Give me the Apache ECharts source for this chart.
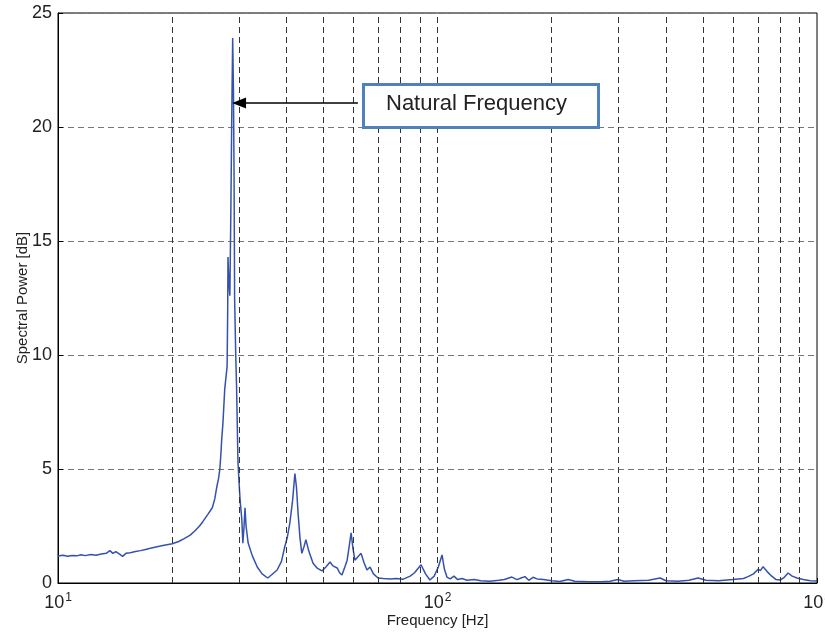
<!DOCTYPE html>
<html>
<head>
<meta charset="utf-8">
<script src="https://cdn.jsdelivr.net/npm/echarts@6/dist/echarts.min.js"></script>
<style>
html,body{margin:0;padding:0;background:#fff;}
#c{width:825px;height:632px;}
</style>
</head>
<body>
<div id="c"></div>
<script>
// Frequency [Hz]
const freqs = [10,10.3,10.6,10.9,11.2,11.5,11.8,12.2,12.6,13.0,13.4,13.7,13.95,14.2,14.5,14.8,15.1,15.5,16.0,16.5,17.0,17.5,18.0,18.6,19.2,20.0,20.8,21.5,22.3,23.0,23.6,24.1,24.8,25.5,25.9,26.2,26.5,26.7,26.9,27.0,27.2,27.4,27.5,27.7,27.9,28.0,28.05,28.2,28.37,28.55,28.7,28.86,29.0,29.1,29.2,29.4,29.55,29.8,30.0,30.2,30.5,30.7,30.9,31.1,31.3,31.7,32.5,33.5,34.5,35.7,36.5,37.8,38.8,39.6,40.2,40.8,41.5,42.1,42.5,42.9,43.4,43.9,44.5,45.0,45.8,47.0,48.2,49.6,50.8,52.1,53.0,54.4,55.2,56.0,57.0,57.8,58.5,59.2,59.9,60.6,61.7,62.9,64.0,65.2,66.4,67.8,69.7,72,75,78,81,84.7,87,90.5,93,95.5,98,100.5,102.8,104.3,105.9,108,110.5,113,116,119.6,125,130,137.5,145,150,157,162,166,170,174,178.5,183,190,200,210,221,230,250,270,285,299,310,330,360,386,400,430,460,486,510,550,600,640,658,680,700,710,721,730,739,760,780,800,820,839,860,886,920,960,1000];
// Spectral Power [dB]
const power = [1.18,1.22,1.17,1.21,1.19,1.24,1.2,1.25,1.22,1.27,1.3,1.42,1.3,1.38,1.28,1.17,1.3,1.33,1.38,1.42,1.47,1.52,1.57,1.62,1.67,1.72,1.82,1.95,2.1,2.3,2.5,2.7,3.0,3.3,3.7,4.2,4.6,5.0,5.8,6.3,7.0,8.0,8.5,9.0,9.5,12.0,14.3,13.2,12.6,16.5,20.5,23.9,21.5,18.0,12.5,10.0,8.6,5.3,4.4,3.6,2.8,1.75,2.4,3.3,2.5,1.75,1.2,0.7,0.4,0.22,0.35,0.57,0.95,1.6,2.0,2.6,3.6,4.8,4.2,3.1,2.0,1.3,1.6,1.9,1.4,0.87,0.65,0.53,0.7,0.92,0.75,0.66,0.45,0.35,0.7,1.0,1.6,2.2,1.5,1.0,1.15,1.3,0.9,0.57,0.7,0.4,0.22,0.2,0.18,0.2,0.16,0.3,0.45,0.8,0.4,0.13,0.3,0.7,1.23,0.6,0.26,0.18,0.3,0.15,0.2,0.12,0.15,0.1,0.08,0.12,0.15,0.26,0.15,0.22,0.28,0.12,0.25,0.18,0.15,0.1,0.07,0.15,0.08,0.05,0.06,0.08,0.15,0.08,0.1,0.12,0.22,0.1,0.08,0.12,0.22,0.12,0.1,0.15,0.2,0.28,0.4,0.6,0.55,0.72,0.6,0.5,0.3,0.15,0.13,0.25,0.44,0.3,0.22,0.15,0.1,0.09];
// Minor grid positions
const gridFreqs = [20,30,40,50,60,70,80,90,100,200,300,400,500,600,700,800,900];
const yTicks = [0,5,10,15,20,25];
const annotationText = 'Natural Frequency';
const arrowFrom = [61.7, 21.05];
const arrowTo = [30.0, 21.05];

const chart = echarts.init(document.getElementById('c'), null, {renderer:'canvas'});
const font = 'Helvetica, Arial, "Liberation Sans", sans-serif';

const option = {
  animation: false,
  backgroundColor: '#fff',
  grid: {left:58, right:8, top:13, bottom:49, show:true, borderColor:'#000', borderWidth:1,
         containLabel:false, outerBoundsMode:'none'},
  xAxis: {
    type:'log', logBase:10, min:10, max:1000,
    name:'Frequency [Hz]', nameLocation:'middle', nameGap:30, nameMoveOverlap:false,
    nameTextStyle:{fontFamily:font, fontSize:15, color:'#222'},
    axisLine:{show:true, lineStyle:{color:'#000', width:1}},
    axisTick:{show:true, inside:true, length:5, lineStyle:{color:'#000'}},
    splitLine:{show:false},
    axisLabel:{
      margin:9, color:'#222', fontFamily:font, hideOverlap:false, showMaxLabel:true, showMinLabel:true,
      formatter: v => '{b|10}{s|' + Math.round(Math.log10(v)) + '}',
      rich:{ b:{fontSize:18, fontFamily:font, color:'#222'},
             s:{fontSize:12, fontFamily:font, color:'#222', verticalAlign:'top', padding:[0,0,10,1]} }
    }
  },
  yAxis: {
    type:'value', min:yTicks[0], max:yTicks[yTicks.length-1], interval:5,
    name:'Spectral Power [dB]', nameLocation:'middle', nameGap:28, nameRotate:90, nameMoveOverlap:false,
    nameTextStyle:{fontFamily:font, fontSize:15, color:'#222'},
    axisLine:{show:true, lineStyle:{color:'#000', width:1}},
    axisTick:{show:true, inside:true, length:5, lineStyle:{color:'#000'}},
    axisLabel:{fontFamily:font, fontSize:18, color:'#222', margin:6},
    splitLine:{show:true, lineStyle:{color:'#777', type:[6,4], width:1}}
  },
  series: [
    {
      type:'line', data: [], silent:true, z:1,
      markLine:{
        silent:true, symbol:['none','none'], animation:false,
        label:{show:false},
        lineStyle:{color:'#333', type:[6,4], width:1},
        data: gridFreqs.map(f => ({xAxis:f}))
      }
    },
    {
      type:'line', z:3,
      data: freqs.map((f,i) => [f, power[i]]),
      showSymbol:false, symbol:'none',
      lineStyle:{color:'#3452ad', width:1.5},
      markLine:{
        silent:true, animation:false, label:{show:false},
        symbol:['none','triangle'], symbolSize:13,
        lineStyle:{color:'#000', type:'solid', width:1.5},
        data:[[{coord:arrowFrom, symbol:'none'},{coord:arrowTo, symbol:'triangle', symbolSize:[11,14]}]]
      }
    }
  ],
  graphic: [
    {
      type:'rect', left:362, top:83, z:10,
      shape:{width:235, height:43},
      style:{fill:'#fff', stroke:'#4f81bd', lineWidth:3}
    },
    {
      type:'text', left:386, top:93, z:11,
      style:{text:annotationText, font:'22px ' + font, fill:'#222'}
    }
  ]
};
chart.setOption(option);
</script>
</body>
</html>
